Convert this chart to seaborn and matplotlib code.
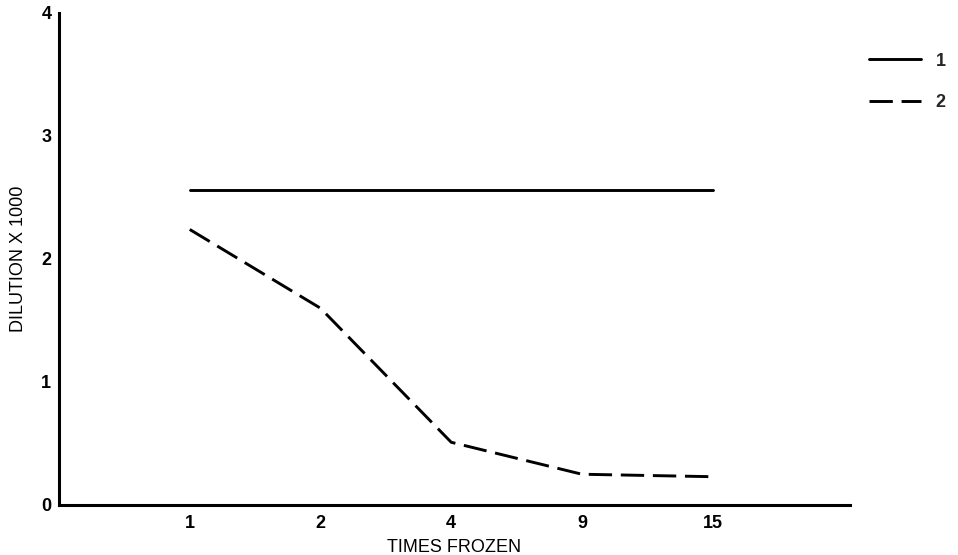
import pandas as pd
import numpy as np
import matplotlib
matplotlib.use('Agg')
import matplotlib.pyplot as plt
import seaborn as sns

# Values
times_frozen = ['1', '2', '4', '9', '15']
series_1 = [2.56, 2.56, 2.56, 2.56, 2.56]
series_2 = [2.24, 1.60, 0.51, 0.25, 0.23]
y_ticks = [0, 1, 2, 3, 4]

# Long-form table for seaborn
df = pd.DataFrame({
    'times': times_frozen * 2,
    'dilution': series_1 + series_2,
    'series': ['1'] * len(times_frozen) + ['2'] * len(times_frozen),
})

sns.set_theme(style='white')
plt.rcParams['font.family'] = ['Liberation Sans Narrow', 'Liberation Sans', 'DejaVu Sans']
plt.rcParams['font.weight'] = 'bold'

fig = plt.figure(figsize=(9.58, 5.55), dpi=100)
ax = fig.add_axes([0.0616, 0.0901, 0.8256, 0.8865])

sns.lineplot(data=df, x='times', y='dilution', style='series',
             dashes={'1': '', '2': (8, 3)}, color='black',
             linewidth=2.1, ax=ax, sort=False)

# Axes styling
ax.set_xlim(-1, 5.05)
ax.set_ylim(0, 4)
ax.set_yticks(y_ticks)
ax.set_yticklabels([str(t) for t in y_ticks])
for side in ['top', 'right']:
    ax.spines[side].set_visible(False)
for side in ['left', 'bottom']:
    ax.spines[side].set_color('black')
    ax.spines[side].set_linewidth(2.2)
ax.tick_params(axis='both', direction='inout', length=7, width=1.8,
               colors='black', labelsize=13, pad=2)
ax.tick_params(axis='x', pad=4)

ax.set_xlabel('TIMES FROZEN', fontsize=13, color='black', labelpad=5)
ax.set_ylabel('DILUTION X 1000', fontsize=13, color='black', labelpad=10)

# Legend at the top right, outside the axes
handles, labels = ax.get_legend_handles_labels()
ax.get_legend().remove()
fig.legend(handles, labels, loc='upper left', bbox_to_anchor=(0.907, 0.905),
           frameon=False, fontsize=13, handlelength=2.9, handletextpad=0.8,
           labelspacing=1.35, borderpad=0, borderaxespad=0)

fig.savefig('out.png', dpi=100)
